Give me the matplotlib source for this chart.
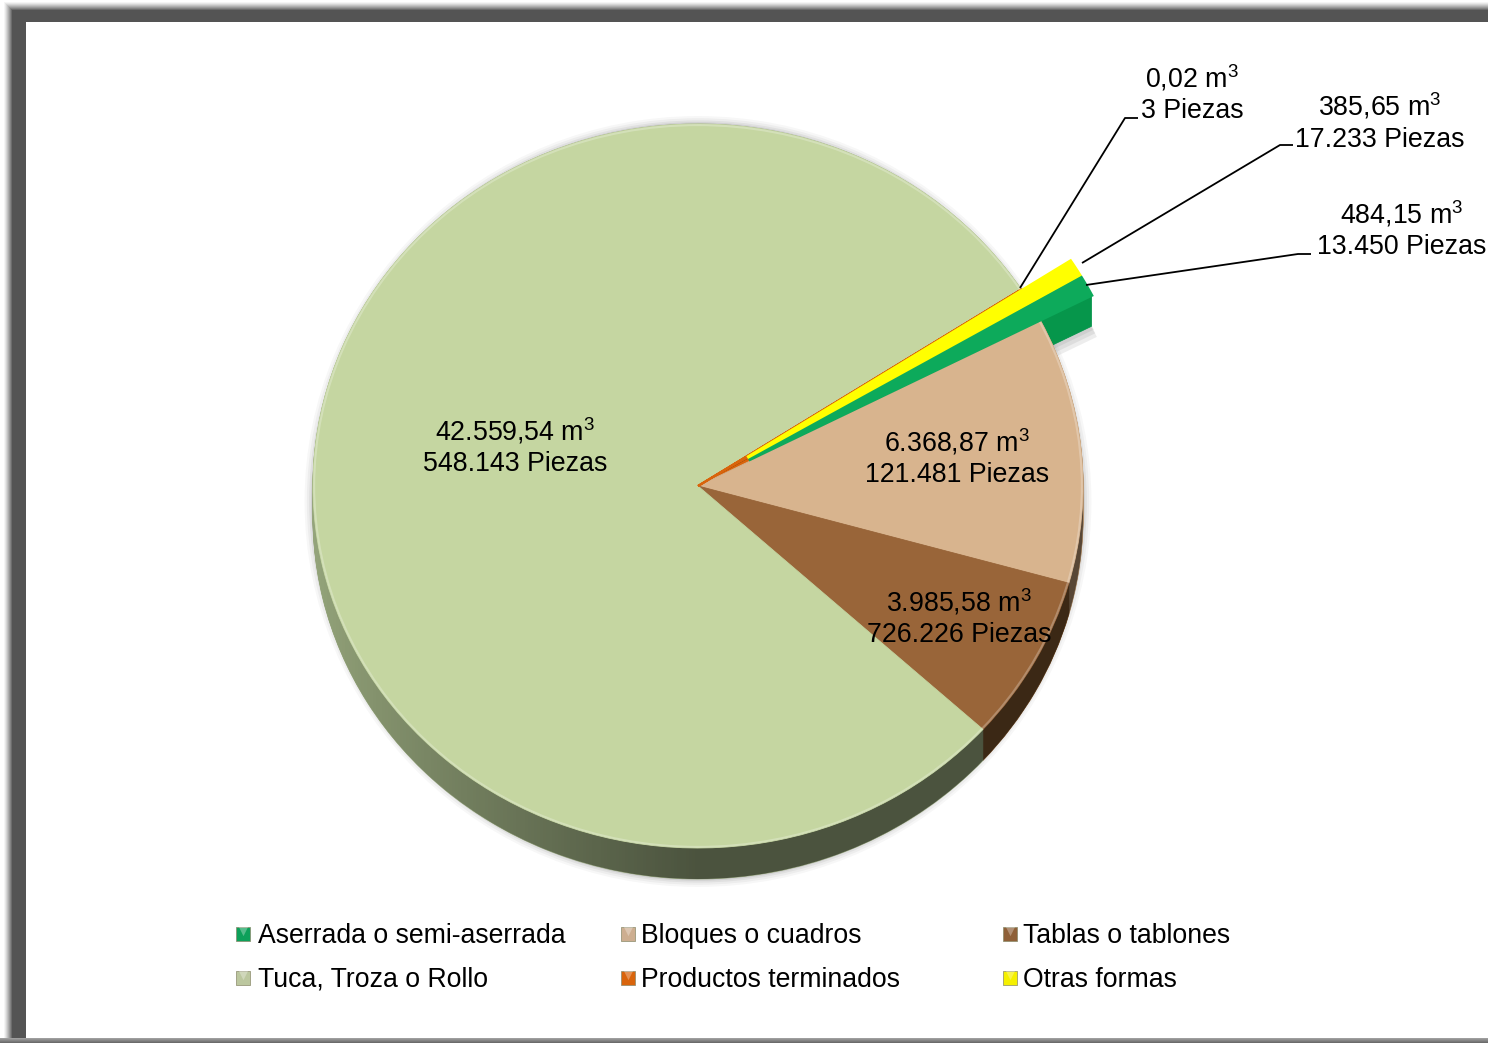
import numpy as np
import matplotlib
matplotlib.use("Agg")
import matplotlib.pyplot as plt
from matplotlib.patches import Ellipse, Rectangle

plt.rcParams['font.family'] = ['Liberation Sans', 'DejaVu Sans']
plt.rcParams['mathtext.fontset'] = 'custom'
plt.rcParams['mathtext.rm'] = 'Liberation Sans'
plt.rcParams['mathtext.default'] = 'rm'

# ------------------------
# Data
# ------------------------
categories = ["Aserrada o semi-aserrada", "Bloques o cuadros", "Tablas o tablones",
              "Tuca, Troza o Rollo", "Productos terminados", "Otras formas"]
volumes = [484.15, 6368.87, 3985.58, 42559.54, 0.02, 385.65]
volume_labels = ["484,15", "6.368,87", "3.985,58", "42.559,54", "0,02", "385,65"]
piece_labels = ["13.450", "121.481", "726.226", "548.143", "3", "17.233"]
explode = [0.15, 0, 0, 0, 0, 0.15]

top_colors = ["#0DAA5B", "#D8B48E", "#996539", "#C5D6A1", "#D9640C", "#FFFF00"]
side_colors = ["#06964B", "#B08F6C", "#76502A", "#96A67C", "#A04A08", "#C8C800"]
legend_colors = ["#0DA05A", "#CDAE90", "#8F6038", "#BCC79F", "#D9640C", "#F5F000"]

# ------------------------
# Layout (pixels of the 1488x1043 picture)
# ------------------------
W, H = 1488, 1043
CX, CY = 698, 486
RX, RY = 385, 362
DEPTH = 31 / RY
START = 30.3

fig = plt.figure(figsize=(W / 100, H / 100), dpi=100, facecolor="white")

# frame behind everything
bg = fig.add_axes([0, 0, 1, 1], zorder=0)
bg.set_xlim(0, W)
bg.set_ylim(H, 0)
bg.axis("off")
for t in range(0, 13):
    shade = 1 - (1 - 0.33) * min(t / 9, 1) ** 1.3
    bg.add_patch(Rectangle((3 + t, t + 1), W + 50, H + 50, color=str(shade), lw=0))
for t in range(0, 6):
    bg.add_patch(Rectangle((0, 1038 + t), W, 6, color=str(0.62 - t * 0.05), lw=0))
bg.add_patch(Rectangle((26, 22), W + 50, 1016, color="white", lw=0))

# ------------------------
# Pie
# ------------------------
ax = fig.add_axes([0, 0, 1, 1], zorder=1)
ax.patch.set_alpha(0)

def draw_pie(colors, center=(0, 0), exploded=explode, zorder=1, edge=0.6):
    wedges, _ = ax.pie(volumes, colors=colors, explode=exploded, startangle=START,
                       counterclock=False, center=center, radius=1,
                       wedgeprops=dict(linewidth=edge))
    for w, c in zip(wedges, colors):
        w.set_edgecolor(c)
        w.set_zorder(zorder)
    return wedges

# soft shadow around the cake
for k, a in zip([0.022, 0.016, 0.010, 0.005], [0.03, 0.04, 0.05, 0.07]):
    ax.add_patch(Ellipse((0, -DEPTH / 2), 2 + 2 * k, 2 + DEPTH + 2 * k, color="black", alpha=a, lw=0, zorder=0.5))

# soft shadow under the pulled-out green slice
for dx, dy in [(0.014, -0.115), (0.010, -0.105), (0.006, -0.095)]:
    shadow = ["#707070" if i == 0 else "none" for i in range(len(volumes))]
    wedges, _ = ax.pie(volumes, colors=shadow, explode=explode, startangle=START,
                       counterclock=False, center=(dx, dy), wedgeprops=dict(linewidth=0, alpha=0.12))
    for w in wedges:
        w.set_zorder(0.6)

# side wall, stacked copies of the pie going down
for d in np.linspace(DEPTH, 0, 32):
    draw_pie(side_colors, center=(0, -d), zorder=1)

# the wall gets darker from left to right
shade_img = np.zeros((2, 256, 4))
shade_img[:, :, 3] = np.clip(np.linspace(0, 1, 256) * 2.0, 0, 1) ** 0.8 * 0.5
im = ax.imshow(shade_img, extent=(-1.01, 1.01, -1.2, 1.0), aspect="auto", zorder=2)
clip = Ellipse((0, -DEPTH), 2.0, 2.0, transform=ax.transData, fc="none", ec="none")
ax.add_patch(clip)
im.set_clip_path(clip)

# gap left by the two pulled-out slices
gap_colors = [top_colors[4] if e > 0 else "none" for e in explode]
wedges, _ = ax.pie(volumes, colors=gap_colors, startangle=START, counterclock=False,
                   radius=0.16, wedgeprops=dict(linewidth=0))
for w in wedges:
    w.set_zorder(3)

# top faces, the pulled-out slices above the rim bevel and a bit fuller
tops = draw_pie(top_colors, zorder=4)
tops[0].set_zorder(6)
tops[0].set_linewidth(2.4)
tops[5].set_zorder(6.5)
tops[5].set_linewidth(2.4)

# orange sliver and bevel of the rim
wedges, _ = ax.pie(volumes, colors=top_colors, startangle=START, counterclock=False,
                   wedgeprops=dict(linewidth=0))
for i, w in enumerate(wedges):
    if i == 4:
        w.set_edgecolor(top_colors[4])
        w.set_linewidth(1.6)
        w.set_zorder(5)
    else:
        w.remove()
ax.add_patch(Ellipse((0, 0), 1.994, 1.994, fc="none", ec="#FFFFFF", alpha=0.25, lw=1.5, zorder=5))

ax.set_aspect("auto")
ax.set_xlim(-CX / RX, (W - CX) / RX)
ax.set_ylim(-(H - CY) / RY, CY / RY)
ax.axis("off")

# ------------------------
# Labels, leader lines, legend
# ------------------------
top = fig.add_axes([0, 0, 1, 1], zorder=2)
top.patch.set_alpha(0)
top.set_xlim(0, W)
top.set_ylim(H, 0)
top.axis("off")

FS = 19.3
label_pos = {0: (1402, 214, 247), 1: (957, 442, 475), 2: (959, 602, 635),
             3: (515, 431, 464), 4: (1192, 78, 111), 5: (1380, 106, 140)}
for i, (x, y1, y2) in label_pos.items():
    top.text(x, y1, f"{volume_labels[i]} m$^3$", ha="center", va="center", fontsize=FS, color="black")
    top.text(x, y2, f"{piece_labels[i]} Piezas", ha="center", va="center", fontsize=FS, color="black")

leaders = [([1020, 1125, 1138], [288, 118, 118]),
           ([1082, 1280, 1293], [263, 145, 145]),
           ([1086, 1298, 1311], [285, 254, 254])]
for xs, ys in leaders:
    top.plot(xs, ys, color="black", lw=1.3, solid_capstyle="butt")

legend_x = [243, 628, 1010]
legend_y = [934, 978]
text_offset = [14.5, 13, 13]
for i, name in enumerate(categories):
    x = legend_x[i % 3]
    y = legend_y[i // 3]
    top.scatter([x], [y], marker="s", s=90, color=legend_colors[i], edgecolors="#8A8A6A", linewidths=0.5)
    top.scatter([x], [y - 3], marker="v", s=45, color="white", alpha=0.3, lw=0)
    top.text(x + text_offset[i % 3], y + 2, name, ha="left", va="center", fontsize=19.15, color="black")

fig.savefig("out.png", dpi=100)
